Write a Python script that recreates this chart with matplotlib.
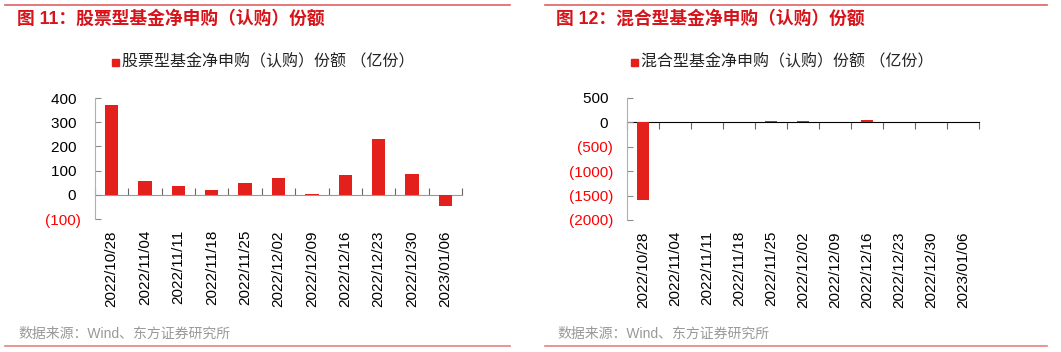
import numpy as np
import matplotlib
matplotlib.use('Agg')
import matplotlib.pyplot as plt
from matplotlib.lines import Line2D
from matplotlib.patches import Rectangle

plt.rcParams['font.family'] = ['Liberation Sans', 'Noto Sans CJK SC']

dates = ['2022/10/28', '2022/11/04', '2022/11/11', '2022/11/18', '2022/11/25', '2022/12/02',
         '2022/12/09', '2022/12/16', '2022/12/23', '2022/12/30', '2023/01/06']
stock_vals = [372, 58, 37, 21, 48, 69, 4, 80, 230, 88, -47]
mixed_vals = [-1580, 8, 8, 8, 25, 35, 8, 40, 3, 6, 3]

titles = ['图 11：股票型基金净申购（认购）份额', '图 12：混合型基金净申购（认购）份额']
legends = ['股票型基金净申购（认购）份额 （亿份）', '混合型基金净申购（认购）份额 （亿份）']
yticks_list = [[-100, 0, 100, 200, 300, 400], [-2000, -1500, -1000, -500, 0, 500]]
source = '数据来源：Wind、东方证券研究所'

RED = '#e3201b'
TITLE_RED = '#d7141a'
GRAY = '#8c8c8c'

fig = plt.figure(figsize=(10.61, 3.52), dpi=100)

panels = [
    dict(vals=stock_vals, ax=[95 / 1061, 1 - 219 / 352, 367 / 1061, 121 / 352],
         title_x=17 / 1061, leg_x=112 / 1061, line=(5, 510)),
    dict(vals=mixed_vals, ax=[627 / 1061, 1 - 220 / 352, 352 / 1061, 122 / 352],
         title_x=556 / 1061, leg_x=631 / 1061, line=(545, 1047)),
]


def fmt(v):
    return f'({abs(v)})' if v < 0 else f'{v} '


for i, p in enumerate(panels):
    ax = fig.add_axes(p['ax'])
    x = np.arange(len(dates))
    ax.bar(x, p['vals'], width=0.4, color=RED, zorder=3)
    yt = yticks_list[i]
    ax.set_ylim(yt[0], yt[-1])
    ax.set_xlim(-0.5, len(dates) - 0.5)
    ax.set_yticks(yt)
    ax.set_yticklabels([fmt(v) for v in yt], fontsize=11)
    for lab, v in zip(ax.get_yticklabels(), yt):
        lab.set_color('#ff0000' if v < 0 else 'black')
    ax.tick_params(axis='y', direction='in', length=4, color=GRAY, pad=10)
    ax.set_xticks(x)
    ax.set_xticklabels(dates, rotation=90, fontsize=11)
    ax.tick_params(axis='x', length=0, pad=8)
    for s in ['top', 'right', 'bottom']:
        ax.spines[s].set_visible(False)
    ax.spines['left'].set_color('#b0b0b0')

    # x axis line at zero with boundary ticks
    loc = (0 - yt[0]) / (yt[-1] - yt[0])
    sec = ax.secondary_xaxis(loc)
    sec.set_xticks(np.arange(len(dates) + 1) - 0.5)
    sec.set_xticklabels([])
    sec.tick_params(direction='in', length=5, color='#666666')
    sec.spines['bottom'].set_color('#999999')

    # title, legend, source, rules
    fig.text(p['title_x'], 1 - 19 / 352, titles[i], color=TITLE_RED, fontsize=12.8,
             fontweight='bold', va='center', ha='left')
    fig.patches.append(Rectangle((p['leg_x'], 1 - 66 / 352), 7 / 1061, 7 / 352,
                                 color=RED, transform=fig.transFigure, figure=fig))
    fig.text(p['leg_x'] + 10 / 1061, 1 - 62 / 352, legends[i], color='#222222', fontsize=11.5,
             va='center', ha='left')
    fig.text(p['title_x'] + 1 / 1061, 1 - 334 / 352, source, color='#999999', fontsize=10,
             va='center', ha='left')
    x0, x1 = p['line']
    fig.add_artist(Line2D([x0 / 1061, x1 / 1061], [1 - 5 / 352, 1 - 5 / 352],
                          color='#e06060', lw=1.2, transform=fig.transFigure))
    fig.add_artist(Line2D([x0 / 1061, x1 / 1061], [1 - 346 / 352, 1 - 346 / 352],
                          color='#e88080', lw=1.2, transform=fig.transFigure))

fig.savefig('out.png', dpi=100)
